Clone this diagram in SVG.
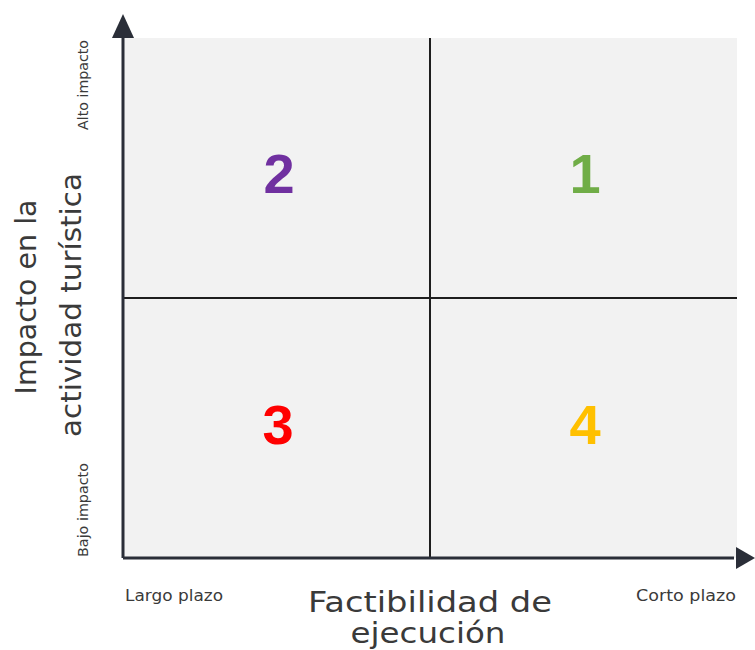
<svg xmlns="http://www.w3.org/2000/svg" width="755" height="650" viewBox="0 0 755 650">
  <style>
    .axis { stroke: #2a2e38; stroke-width: 3; fill: none; }
    .div { stroke: #1e1e1e; stroke-width: 2; fill: none; }
    .num { font-family: "Liberation Sans", Arial, sans-serif; font-weight: bold; font-size: 56px; text-anchor: middle; }
    .lbl { font-family: "DejaVu Sans", "Liberation Sans", sans-serif; fill: #3a3a3a; }
    .small { font-size: 14px; text-anchor: middle; }
    .title { font-size: 29px; text-anchor: middle; }
  </style>
  <defs>
    <marker id="arr" markerUnits="userSpaceOnUse" markerWidth="24" markerHeight="24" viewBox="0 0 24 24" refX="0" refY="12" orient="auto">
      <path d="M0,1 L22,12 L0,23 Z" fill="#2a2e38"/>
    </marker>
  </defs>

  <g id="background">
    <rect x="123" y="38" width="614" height="520" fill="#f2f2f2"/>
  </g>

  <g id="connectors">
    <line class="div" x1="430" y1="38" x2="430" y2="558"/>
    <line class="div" x1="123" y1="298" x2="737" y2="298"/>
    <path class="axis" d="M123,558 L123,38"/>
    <path class="axis" d="M123,558 L734,558"/>
    <path d="M112,38 L123,14 L134,38 Z" fill="#2a2e38"/>
    <path d="M736,547 L755,558 L736,569 Z" fill="#2a2e38"/>
  </g>

  <g id="q1"><text class="num" x="585" y="193" fill="#70AD47">1</text></g>
  <g id="q2"><text class="num" x="279" y="193" fill="#7030A0">2</text></g>
  <g id="q3"><text class="num" x="278" y="444" fill="#FF0000">3</text></g>
  <g id="q4"><text class="num" x="585" y="444" fill="#FFC000">4</text></g>

  <g id="y-labels">
    <text class="lbl small" transform="translate(88,85) rotate(-90)" textLength="90" lengthAdjust="spacingAndGlyphs">Alto impacto</text>
    <text class="lbl small" transform="translate(88,510) rotate(-90)" textLength="94" lengthAdjust="spacingAndGlyphs">Bajo impacto</text>
    <text class="lbl title" transform="translate(36,297) rotate(-90)" textLength="195" lengthAdjust="spacingAndGlyphs">Impacto en la</text>
    <text class="lbl title" transform="translate(81,305) rotate(-90)" textLength="264" lengthAdjust="spacingAndGlyphs">actividad turística</text>
  </g>

  <g id="x-labels">
    <text class="lbl" x="125" y="601" font-size="15" textLength="98" lengthAdjust="spacingAndGlyphs">Largo plazo</text>
    <text class="lbl" x="636" y="601" font-size="15" textLength="100" lengthAdjust="spacingAndGlyphs">Corto plazo</text>
    <text class="lbl title" x="430" y="612" textLength="244" lengthAdjust="spacingAndGlyphs">Factibilidad de</text>
    <text class="lbl title" x="428" y="643" textLength="155" lengthAdjust="spacingAndGlyphs">ejecución</text>
  </g>
</svg>
